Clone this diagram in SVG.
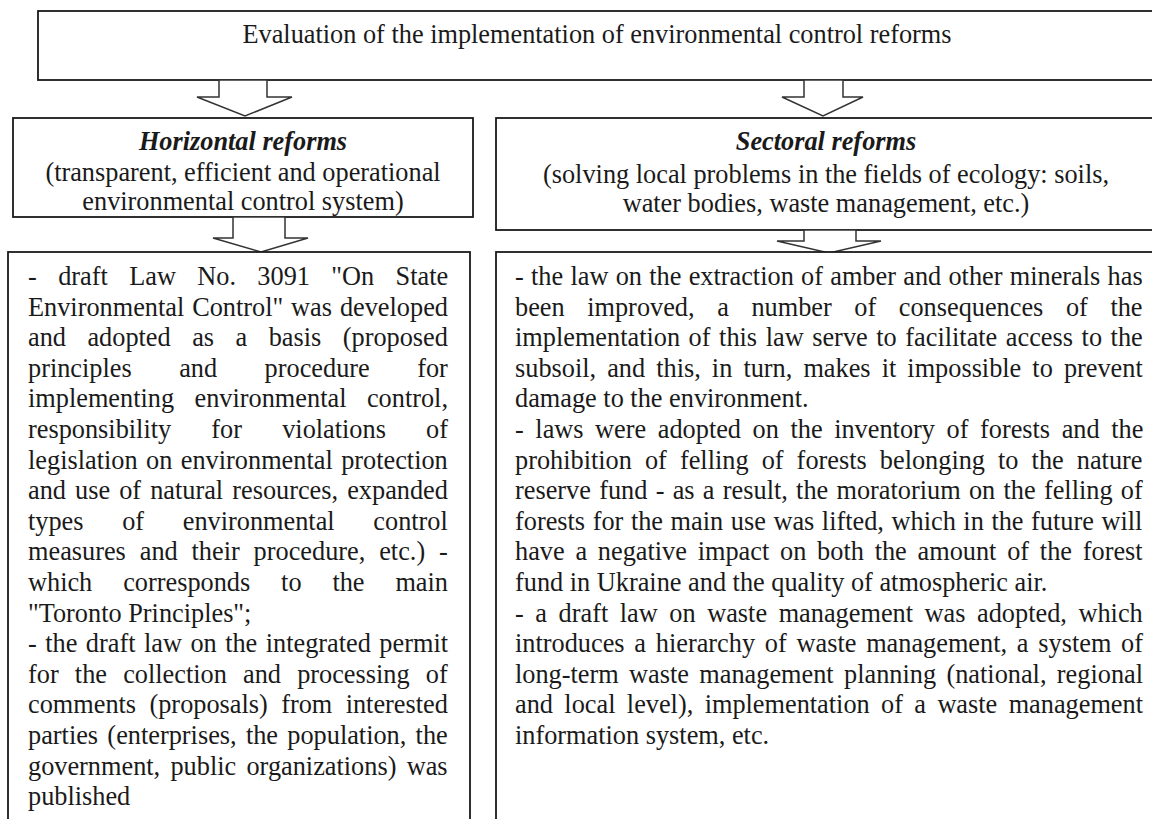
<svg xmlns="http://www.w3.org/2000/svg" width="1152" height="819" viewBox="0 0 1152 819">
<style>
.box{fill:#fff;stroke:#1a1a1a;stroke-width:1.8}
.arr{fill:#fff;stroke:#333;stroke-width:1.5;stroke-linejoin:miter}
text{font-family:"Liberation Serif","Times New Roman",serif;font-size:26.3px;fill:#1a1a1a}
.c{text-anchor:middle}
.h{font-weight:bold;font-style:italic}
</style>
<rect width="1152" height="819" fill="#fff"/>
<g id="top">
<rect class="box" x="38" y="11" width="1120" height="69"/>
<text class="c" x="597" y="43">Evaluation of the implementation of environmental control reforms</text>
</g>
<g id="horizontal">
<rect class="box" x="13" y="118" width="460" height="99"/>
<text class="c h" x="243" y="150">Horizontal reforms</text>
<text class="c" x="243" y="181">(transparent, efficient and operational</text>
<text class="c" x="243" y="210">environmental control system)</text>
</g>
<g id="sectoral">
<rect class="box" x="496" y="118" width="662" height="112"/>
<text class="c h" x="826" y="150">Sectoral reforms</text>
<text class="c" x="826" y="183">(solving local problems in the fields of ecology: soils,</text>
<text class="c" x="826" y="212">water bodies, waste management, etc.)</text>
</g>
<g id="connectors">
<polygon class="arr" points="219,80 267,80 267,97 292,97 245,116 197,97 219,97"/>
<polygon class="arr" points="804,80 843,80 843,97 863,97 823,116 782,97 804,97"/>
<polygon class="arr" points="233,217 285,217 285,238 308,238 261,252 213,238 233,238"/>
<polygon class="arr" points="804,230 856,230 856,241 881,241 829,253 777,241 804,241"/>
</g>
<g id="horizontal-details">
<rect class="box" x="8" y="252" width="462" height="580"/>
<text x="28" y="285" word-spacing="14.8">- draft Law No. 3091 "On State</text>
<text x="28" y="315.6" word-spacing="1.3">Environmental Control" was developed</text>
<text x="28" y="346.2" word-spacing="14.9">and adopted as a basis (proposed</text>
<text x="28" y="376.8" word-spacing="40.9">principles and procedure for</text>
<text x="28" y="407.4" word-spacing="13.9">implementing environmental control,</text>
<text x="28" y="438" word-spacing="33.6">responsibility for violations of</text>
<text x="28" y="468.6" word-spacing="1.9">legislation on environmental protection</text>
<text x="28" y="499.2" word-spacing="2.5">and use of natural resources, expanded</text>
<text x="28" y="529.8" word-spacing="32.1">types of environmental control</text>
<text x="28" y="560.4" word-spacing="7.3">measures and their procedure, etc.) -</text>
<text x="28" y="591" word-spacing="24.3">which corresponds to the main</text>
<text x="28" y="621.6">"Toronto Principles";</text>
<text x="28" y="652.2" word-spacing="1.9">- the draft law on the integrated permit</text>
<text x="28" y="682.8" word-spacing="9.6">for the collection and processing of</text>
<text x="28" y="713.4" word-spacing="6.8">comments (proposals) from interested</text>
<text x="28" y="744" word-spacing="2.7">parties (enterprises, the population, the</text>
<text x="28" y="774.6" word-spacing="3.7">government, public organizations) was</text>
<text x="28" y="805.2">published</text>
</g>
<g id="sectoral-details">
<rect class="box" x="496" y="252" width="662" height="580"/>
<text x="515" y="285" word-spacing="0.7">- the law on the extraction of amber and other minerals has</text>
<text x="515" y="315.6" word-spacing="16.0">been improved, a number of consequences of the</text>
<text x="515" y="346.2" word-spacing="2.0">implementation of this law serve to facilitate access to the</text>
<text x="515" y="376.8" word-spacing="4.5">subsoil, and this, in turn, makes it impossible to prevent</text>
<text x="515" y="407.4">damage to the environment.</text>
<text x="515" y="438" word-spacing="5.0">- laws were adopted on the inventory of forests and the</text>
<text x="515" y="468.6" word-spacing="6.5">prohibition of felling of forests belonging to the nature</text>
<text x="515" y="499.2" word-spacing="1.7">reserve fund - as a result, the moratorium on the felling of</text>
<text x="515" y="529.8" word-spacing="1.0">forests for the main use was lifted, which in the future will</text>
<text x="515" y="560.4" word-spacing="4.2">have a negative impact on both the amount of the forest</text>
<text x="515" y="591">fund in Ukraine and the quality of atmospheric air.</text>
<text x="515" y="621.6" word-spacing="5.0">- a draft law on waste management was adopted, which</text>
<text x="515" y="652.2" word-spacing="3.2">introduces a hierarchy of waste management, a system of</text>
<text x="515" y="682.8" word-spacing="3.8">long-term waste management planning (national, regional</text>
<text x="515" y="713.4" word-spacing="4.8">and local level), implementation of a waste management</text>
<text x="515" y="744">information system, etc.</text>
</g>
</svg>
